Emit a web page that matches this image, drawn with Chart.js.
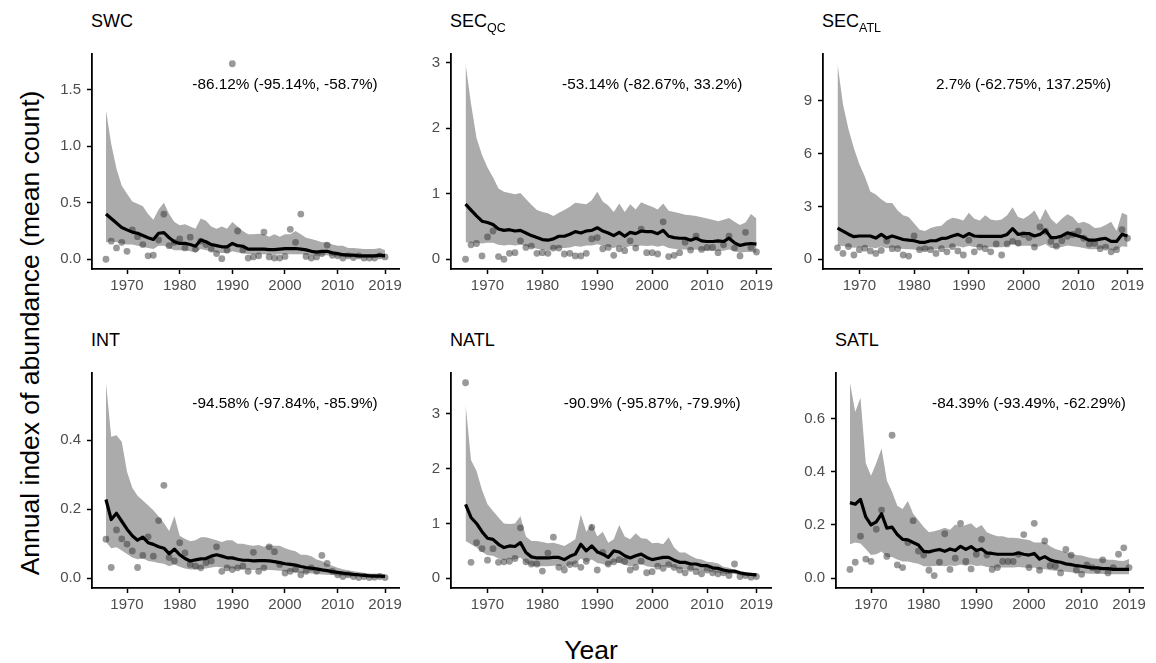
<!DOCTYPE html>
<html>
<head>
<meta charset="utf-8">
<title>Annual index of abundance</title>
<script src="https://cdn.jsdelivr.net/npm/chart.js@4.4.1/dist/chart.umd.min.js"></script>
<style>
  body { margin: 0; background: #fff; font-family: "Liberation Sans", Arial, sans-serif; }
  #figure { position: relative; width: 1156px; height: 663px; overflow: hidden; background: #fff; }
  #figure canvas { position: absolute; }
  .panel-title { position: absolute; font-size: 18px; line-height: 18px; color: #000; white-space: nowrap; }
  .panel-title span { font-size: 12.5px; position: relative; top: 5px; }
  .axis-title { position: absolute; font-size: 26.5px; line-height: 27px; color: #000; white-space: nowrap; }
  #ytitle { left: 30px; top: 333px; transform: translate(-50%, -50%) rotate(-90deg); }
  #xtitle { left: 591px; top: 650px; transform: translate(-50%, -50%); }
</style>
</head>
<body>
<div id="figure">
  <div class="axis-title" id="ytitle">Annual index of abundance (mean count)</div>
  <div class="axis-title" id="xtitle">Year</div>
</div>
<script>
const years = [1966, 1967, 1968, 1969, 1970, 1971, 1972, 1973, 1974, 1975,
  1976, 1977, 1978, 1979, 1980, 1981, 1982, 1983, 1984, 1985,
  1986, 1987, 1988, 1989, 1990, 1991, 1992, 1993, 1994, 1995,
  1996, 1997, 1998, 1999, 2000, 2001, 2002, 2003, 2004, 2005,
  2006, 2007, 2008, 2009, 2010, 2011, 2012, 2013, 2014, 2015,
  2016, 2017, 2018, 2019];
const yearTicks = [1970, 1980, 1990, 2000, 2010, 2019];

const regionNames = ['SWC', 'SEC', 'SEC', 'INT', 'NATL', 'SATL'];
const regionSubs = ['', 'QC', 'ATL', '', '', ''];
const changeLabels = [
  '-86.12% (-95.14%, -58.7%)',
  '-53.14% (-82.67%, 33.2%)',
  '2.7% (-62.75%, 137.25%)',
  '-94.58% (-97.84%, -85.9%)',
  '-90.9% (-95.87%, -79.9%)',
  '-84.39% (-93.49%, -62.29%)'
];

// SWC
const swcMean = [0.40, 0.36, 0.32, 0.28, 0.26, 0.24, 0.23, 0.21, 0.19, 0.175,
  0.23, 0.235, 0.19, 0.155, 0.14, 0.14, 0.13, 0.115, 0.17, 0.155,
  0.13, 0.12, 0.11, 0.11, 0.14, 0.12, 0.115, 0.09, 0.09, 0.09,
  0.09, 0.085, 0.085, 0.09, 0.093, 0.093, 0.095, 0.09, 0.083, 0.07,
  0.063, 0.07, 0.07, 0.056, 0.05, 0.04, 0.036, 0.036, 0.03, 0.03,
  0.03, 0.03, 0.036, 0.03];
const swcUpper = [1.32, 1.02, 0.80, 0.65, 0.58, 0.51, 0.49, 0.47, 0.40, 0.35,
  0.44, 0.50, 0.40, 0.33, 0.30, 0.31, 0.29, 0.27, 0.36, 0.34,
  0.29, 0.27, 0.29, 0.27, 0.33, 0.29, 0.25, 0.22, 0.22, 0.225,
  0.22, 0.20, 0.22, 0.20, 0.22, 0.22, 0.25, 0.22, 0.19, 0.18,
  0.165, 0.15, 0.15, 0.13, 0.12, 0.12, 0.10, 0.10, 0.095, 0.09,
  0.09, 0.09, 0.10, 0.08];
const swcLower = [0.15, 0.16, 0.15, 0.14, 0.13, 0.13, 0.12, 0.11, 0.10, 0.09,
  0.12, 0.12, 0.10, 0.08, 0.08, 0.08, 0.07, 0.06, 0.09, 0.08,
  0.07, 0.06, 0.055, 0.055, 0.07, 0.06, 0.055, 0.045, 0.045, 0.045,
  0.045, 0.04, 0.04, 0.045, 0.045, 0.045, 0.045, 0.045, 0.04, 0.035,
  0.03, 0.035, 0.035, 0.028, 0.024, 0.02, 0.018, 0.018, 0.015, 0.015,
  0.015, 0.015, 0.017, 0.014];
const swcObs = [0.00, 0.16, 0.10, 0.15, 0.07, 0.26, 0.20, 0.13, 0.03, 0.035,
  0.17, 0.40, 0.12, 0.15, 0.18, 0.10, 0.195, 0.09, 0.16, 0.13,
  0.09, 0.05, 0.005, 0.08, 1.73, 0.25, 0.08, 0.01, 0.02, 0.03,
  0.24, 0.02, 0.01, 0.01, 0.025, 0.265, 0.15, 0.40, 0.025, 0.01,
  0.02, 0.05, 0.125, 0.035, 0.03, 0.01, 0.03, 0.015, 0.03, 0.01,
  0.01, 0.01, 0.03, 0.02];

// SEC QC
const qcMean = [0.84, 0.75, 0.66, 0.58, 0.56, 0.53, 0.46, 0.44, 0.45, 0.43,
  0.44, 0.40, 0.36, 0.33, 0.30, 0.29, 0.31, 0.35, 0.35, 0.38,
  0.42, 0.40, 0.43, 0.44, 0.48, 0.43, 0.40, 0.36, 0.41, 0.35,
  0.41, 0.39, 0.43, 0.42, 0.42, 0.39, 0.44, 0.35, 0.33, 0.32,
  0.32, 0.29, 0.32, 0.28, 0.27, 0.27, 0.28, 0.27, 0.32, 0.25,
  0.21, 0.23, 0.24, 0.23];
const qcUpper = [2.98, 2.37, 1.85, 1.59, 1.40, 1.25, 1.08, 1.03, 1.01, 0.99,
  1.01, 0.92, 0.83, 0.75, 0.72, 0.70, 0.66, 0.71, 0.75, 0.80,
  0.86, 0.85, 0.84, 0.90, 1.03, 0.88, 0.82, 0.72, 0.85, 0.72,
  0.84, 0.76, 0.87, 0.83, 0.80, 0.76, 0.85, 0.74, 0.72, 0.70,
  0.68, 0.67, 0.66, 0.64, 0.62, 0.60, 0.58, 0.60, 0.63, 0.57,
  0.52, 0.56, 0.69, 0.62];
const qcLower = [0.26, 0.25, 0.25, 0.24, 0.25, 0.25, 0.22, 0.21, 0.22, 0.21,
  0.22, 0.20, 0.18, 0.16, 0.14, 0.14, 0.15, 0.17, 0.17, 0.18,
  0.20, 0.19, 0.21, 0.21, 0.23, 0.21, 0.19, 0.17, 0.20, 0.17,
  0.20, 0.19, 0.21, 0.20, 0.21, 0.19, 0.21, 0.17, 0.16, 0.15,
  0.15, 0.14, 0.15, 0.13, 0.13, 0.13, 0.13, 0.13, 0.15, 0.12,
  0.10, 0.11, 0.11, 0.10];
const qcObs = [0.00, 0.22, 0.24, 0.05, 0.34, 0.43, 0.04, 0.00, 0.09, 0.10,
  0.28, 0.18, 0.20, 0.09, 0.10, 0.09, 0.17, 0.17, 0.08, 0.09,
  0.05, 0.05, 0.09, 0.31, 0.33, 0.16, 0.18, 0.06, 0.16, 0.13,
  0.28, 0.17, 0.46, 0.10, 0.10, 0.08, 0.57, 0.04, 0.06, 0.10,
  0.26, 0.14, 0.35, 0.15, 0.18, 0.18, 0.10, 0.22, 0.35, 0.17,
  0.05, 0.41, 0.18, 0.11];

// SEC ATL
const atlMean = [1.77, 1.60, 1.42, 1.28, 1.32, 1.32, 1.32, 1.20, 1.41, 1.20,
  1.32, 1.22, 1.12, 1.08, 1.05, 0.96, 0.96, 1.05, 1.05, 1.18,
  1.20, 1.32, 1.41, 1.27, 1.46, 1.32, 1.30, 1.30, 1.30, 1.30,
  1.30, 1.41, 1.74, 1.41, 1.46, 1.46, 1.32, 1.41, 1.65, 1.23,
  1.23, 1.32, 1.50, 1.41, 1.32, 1.23, 1.08, 1.08, 1.14, 1.19,
  1.01, 1.01, 1.41, 1.32];
const atlUpper = [11.1, 8.8, 7.4, 6.3, 5.4, 4.7, 3.85, 3.67, 3.4, 3.2,
  3.2, 2.77, 2.5, 2.4, 2.04, 1.68, 1.6, 1.77, 1.86, 1.9,
  2.2, 2.35, 2.3, 2.2, 2.64, 2.3, 2.2, 2.5, 2.25, 2.2,
  2.25, 2.5, 2.95, 2.4, 2.3, 2.5, 2.77, 2.2, 2.85, 2.3,
  2.0, 2.3, 2.55, 2.4, 2.04, 2.13, 2.0, 1.77, 1.8, 1.95,
  2.13, 1.6, 2.64, 2.5];
const atlLower = [0.78, 0.75, 0.70, 0.65, 0.68, 0.68, 0.68, 0.62, 0.72, 0.62,
  0.68, 0.63, 0.58, 0.56, 0.55, 0.50, 0.50, 0.55, 0.55, 0.62,
  0.63, 0.69, 0.73, 0.66, 0.76, 0.69, 0.68, 0.68, 0.68, 0.68,
  0.68, 0.73, 0.90, 0.73, 0.76, 0.76, 0.69, 0.73, 0.86, 0.64,
  0.64, 0.69, 0.78, 0.73, 0.69, 0.64, 0.56, 0.56, 0.59, 0.62,
  0.52, 0.52, 0.73, 0.69];
const atlObs = [0.65, 0.33, 0.72, 0.24, 0.54, 0.63, 0.47, 0.33, 0.50, 1.05,
  0.60, 0.60, 0.24, 0.18, 1.32, 0.54, 0.60, 0.54, 0.33, 0.60,
  0.42, 0.72, 0.47, 0.24, 1.08, 0.42, 0.69, 0.60, 0.42, 0.87,
  0.24, 0.87, 1.01, 0.92, 1.41, 1.23, 0.69, 1.83, 1.59, 1.01,
  0.74, 1.05, 1.30, 1.41, 1.59, 1.19, 0.87, 0.90, 0.60, 0.69,
  0.42, 0.54, 1.68, 1.19];

// INT
const intMean = [0.228, 0.17, 0.188, 0.165, 0.142, 0.123, 0.11, 0.119, 0.103, 0.098,
  0.091, 0.087, 0.071, 0.084, 0.068, 0.057, 0.05, 0.053, 0.056, 0.057,
  0.064, 0.068, 0.064, 0.059, 0.059, 0.055, 0.052, 0.052, 0.05, 0.051,
  0.051, 0.05, 0.048, 0.045, 0.042, 0.04, 0.038, 0.034, 0.031, 0.029,
  0.027, 0.024, 0.022, 0.019, 0.017, 0.015, 0.013, 0.011, 0.01, 0.008,
  0.007, 0.006, 0.006, 0.005];
const intUpper = [0.566, 0.41, 0.414, 0.395, 0.308, 0.262, 0.239, 0.225, 0.211, 0.197,
  0.179, 0.16, 0.137, 0.18, 0.123, 0.114, 0.107, 0.11, 0.119, 0.119,
  0.114, 0.11, 0.105, 0.11, 0.11, 0.10, 0.10, 0.096, 0.094, 0.096,
  0.091, 0.096, 0.094, 0.094, 0.087, 0.082, 0.078, 0.068, 0.068, 0.064,
  0.054, 0.05, 0.041, 0.036, 0.03, 0.026, 0.023, 0.02, 0.018, 0.016,
  0.014, 0.013, 0.013, 0.012];
const intLower = [0.105, 0.087, 0.09, 0.08, 0.07, 0.06, 0.055, 0.058, 0.05, 0.048,
  0.044, 0.042, 0.035, 0.04, 0.033, 0.028, 0.025, 0.026, 0.027, 0.028,
  0.031, 0.033, 0.031, 0.029, 0.029, 0.027, 0.025, 0.025, 0.024, 0.025,
  0.025, 0.024, 0.023, 0.022, 0.02, 0.019, 0.018, 0.016, 0.015, 0.014,
  0.013, 0.011, 0.01, 0.009, 0.008, 0.007, 0.006, 0.005, 0.004, 0.004,
  0.003, 0.003, 0.003, 0.002];
const intObs = [0.113, 0.031, 0.14, 0.114, 0.099, 0.079, 0.031, 0.066, 0.12, 0.064,
  0.167, 0.269, 0.06, 0.05, 0.103, 0.073, 0.04, 0.035, 0.03, 0.045,
  0.05, 0.091, 0.02, 0.03, 0.025, 0.03, 0.035, 0.02, 0.075, 0.02,
  0.03, 0.091, 0.077, 0.04, 0.015, 0.02, 0.025, 0.01, 0.02, 0.03,
  0.02, 0.066, 0.043, 0.02, 0.01, 0.005, 0.01, 0.005, 0.002, 0.005,
  0.002, 0.003, 0.005, 0.002];

// NATL
const natlMean = [1.35, 1.11, 1.0, 0.85, 0.73, 0.71, 0.62, 0.56, 0.59, 0.58,
  0.65, 0.47, 0.39, 0.37, 0.37, 0.37, 0.38, 0.38, 0.34, 0.40,
  0.44, 0.62, 0.50, 0.59, 0.48, 0.44, 0.38, 0.50, 0.48, 0.41,
  0.37, 0.41, 0.44, 0.38, 0.34, 0.36, 0.38, 0.38, 0.33, 0.29,
  0.29, 0.26, 0.26, 0.23, 0.23, 0.19, 0.18, 0.15, 0.13, 0.13,
  0.10, 0.08, 0.07, 0.06];
const natlUpper = [3.18, 2.16, 1.96, 1.61, 1.35, 1.23, 1.11, 1.0, 0.99, 1.0,
  1.13, 0.76, 0.68, 0.68, 0.66, 0.64, 0.65, 0.62, 0.59, 0.65,
  0.71, 1.16, 0.85, 1.0, 0.76, 0.85, 0.65, 0.71, 0.97, 0.76,
  0.71, 0.82, 0.73, 0.72, 0.64, 0.65, 0.62, 0.75, 0.56, 0.47,
  0.47, 0.41, 0.36, 0.34, 0.30, 0.29, 0.27, 0.21, 0.19, 0.15,
  0.12, 0.10, 0.09, 0.09];
const natlLower = [0.68, 0.62, 0.56, 0.48, 0.42, 0.41, 0.36, 0.33, 0.35, 0.34,
  0.38, 0.28, 0.23, 0.22, 0.22, 0.22, 0.23, 0.23, 0.20, 0.24,
  0.26, 0.36, 0.29, 0.34, 0.28, 0.26, 0.22, 0.29, 0.28, 0.24,
  0.22, 0.24, 0.26, 0.22, 0.20, 0.21, 0.22, 0.22, 0.19, 0.17,
  0.17, 0.15, 0.15, 0.13, 0.13, 0.11, 0.10, 0.085, 0.075, 0.075,
  0.055, 0.045, 0.04, 0.03];
const natlObs = [3.57, 0.29, 0.65, 0.54, 0.33, 0.54, 0.29, 0.30, 0.31, 0.36,
  0.92, 0.30, 0.26, 0.26, 0.13, 0.46, 0.75, 0.20, 0.15, 0.25,
  0.26, 0.20, 0.31, 0.93, 0.15, 0.47, 0.26, 0.30, 0.34, 0.31,
  0.15, 0.20, 0.31, 0.10, 0.12, 0.22, 0.18, 0.25, 0.20, 0.15,
  0.10, 0.18, 0.12, 0.08, 0.15, 0.10, 0.08, 0.10, 0.05, 0.26,
  0.03, 0.05, 0.02, 0.03];

// SATL
const satlMean = [0.284, 0.278, 0.296, 0.23, 0.20, 0.212, 0.242, 0.188, 0.192, 0.164,
  0.146, 0.144, 0.134, 0.125, 0.101, 0.099, 0.104, 0.108, 0.101, 0.11,
  0.104, 0.12, 0.108, 0.119, 0.104, 0.11, 0.095, 0.093, 0.09, 0.09,
  0.09, 0.09, 0.095, 0.09, 0.087, 0.093, 0.072, 0.081, 0.069, 0.063,
  0.06, 0.054, 0.051, 0.047, 0.045, 0.042, 0.039, 0.039, 0.036, 0.036,
  0.033, 0.033, 0.033, 0.033];
const satlUpper = [0.734, 0.624, 0.678, 0.433, 0.385, 0.433, 0.487, 0.367, 0.325, 0.272,
  0.26, 0.29, 0.242, 0.218, 0.192, 0.173, 0.176, 0.182, 0.19, 0.182,
  0.202, 0.194, 0.2, 0.206, 0.188, 0.2, 0.173, 0.164, 0.158, 0.158,
  0.152, 0.152, 0.15, 0.146, 0.144, 0.134, 0.134, 0.136, 0.12, 0.11,
  0.104, 0.098, 0.093, 0.087, 0.085, 0.08, 0.075, 0.073, 0.073, 0.069,
  0.069, 0.066, 0.065, 0.072];
const satlLower = [0.128, 0.134, 0.13, 0.11, 0.087, 0.09, 0.1, 0.08, 0.08, 0.07,
  0.063, 0.063, 0.058, 0.054, 0.045, 0.044, 0.046, 0.048, 0.045, 0.048,
  0.046, 0.052, 0.047, 0.052, 0.046, 0.048, 0.042, 0.041, 0.04, 0.04,
  0.04, 0.04, 0.042, 0.04, 0.038, 0.04, 0.032, 0.035, 0.03, 0.028,
  0.026, 0.024, 0.022, 0.02, 0.02, 0.018, 0.017, 0.017, 0.016, 0.016,
  0.015, 0.015, 0.015, 0.015];
const satlObs = [0.033, 0.06, 0.158, 0.072, 0.063, 0.184, 0.256, 0.082, 0.537, 0.05,
  0.04, 0.134, 0.216, 0.102, 0.087, 0.03, 0.01, 0.06, 0.167, 0.033,
  0.075, 0.206, 0.063, 0.035, 0.09, 0.146, 0.087, 0.033, 0.04, 0.063,
  0.063, 0.063, 0.09, 0.164, 0.04, 0.206, 0.03, 0.14, 0.047, 0.045,
  0.02, 0.108, 0.087, 0.03, 0.015, 0.05, 0.04, 0.03, 0.069, 0.02,
  0.04, 0.09, 0.114, 0.04];

const yTickValues = [
  [0, 0.5, 1, 1.5], [0, 1, 2, 3], [0, 3, 6, 9],
  [0, 0.2, 0.4], [0, 1, 2, 3], [0, 0.2, 0.4, 0.6]
];
const yTickLabels = [
  ['0.0', '0.5', '1.0', '1.5'], ['0', '1', '2', '3'], ['0', '3', '6', '9'],
  ['0.0', '0.2', '0.4'], ['0', '1', '2', '3'], ['0.0', '0.2', '0.4', '0.6']
];

const series = [
  [swcMean, swcUpper, swcLower, swcObs],
  [qcMean, qcUpper, qcLower, qcObs],
  [atlMean, atlUpper, atlLower, atlObs],
  [intMean, intUpper, intLower, intObs],
  [natlMean, natlUpper, natlLower, natlObs],
  [satlMean, satlUpper, satlLower, satlObs]
];

// plot area of each panel on the page (px)
const panelBoxes = [
  { left: 92, right: 399, top: 45, bottom: 269 },
  { left: 451, right: 771, top: 45, bottom: 269 },
  { left: 823, right: 1142, top: 45, bottom: 269 },
  { left: 92, right: 399, top: 364, bottom: 588 },
  { left: 451, right: 771, top: 364, bottom: 588 },
  { left: 836, right: 1143, top: 364, bottom: 588 }
];

const AXIS_W = 60, AXIS_H = 35, PAD_TOP = 6, PAD_RIGHT = 10;
const tickFont = { family: '"Liberation Sans", Arial, sans-serif', size: 15 };
const tickColor = '#4d4d4d';

const changeText = {
  id: 'changeText',
  afterDatasetsDraw(chart, args, opts) {
    const { ctx, scales } = chart;
    ctx.save();
    ctx.font = '15.3px "Liberation Sans", Arial, sans-serif';
    ctx.fillStyle = '#000';
    ctx.textAlign = 'center';
    ctx.textBaseline = 'middle';
    ctx.fillText(opts.text, scales.x.getPixelForValue(opts.x), scales.y.getPixelForValue(opts.y));
    ctx.restore();
  }
};

function toPoints(values) {
  return values.map((v, i) => ({ x: years[i], y: v }));
}

function buildPanel(i) {
  const box = panelBoxes[i];
  const [mean, upper, lower, obs] = series[i];
  const fig = document.getElementById('figure');

  const title = document.createElement('div');
  title.className = 'panel-title';
  title.style.left = (box.left - 1) + 'px';
  title.style.top = (box.top - 33) + 'px';
  title.innerHTML = regionNames[i] + (regionSubs[i] ? '<span>' + regionSubs[i] + '</span>' : '');
  fig.appendChild(title);

  const canvas = document.createElement('canvas');
  canvas.width = box.right - box.left + AXIS_W + PAD_RIGHT;
  canvas.height = box.bottom - box.top + PAD_TOP + AXIS_H;
  canvas.style.left = (box.left - AXIS_W) + 'px';
  canvas.style.top = (box.top - PAD_TOP) + 'px';
  fig.appendChild(canvas);

  const hi = Math.max(...upper, ...obs);
  const lo = Math.min(0, ...lower, ...obs);
  const padY = (hi - lo) * 0.05;
  const padX = (years[years.length - 1] - years[0]) * 0.05;

  new Chart(canvas.getContext('2d'), {
    type: 'line',
    data: {
      datasets: [
        { data: toPoints(mean), borderColor: '#000', borderWidth: 3.2, pointRadius: 0,
          borderJoinStyle: 'round', fill: false, order: 0 },
        { data: toPoints(obs), showLine: false, pointRadius: 3.4, pointBorderWidth: 0,
          pointBackgroundColor: 'rgba(51,51,51,0.5)', order: 1 },
        { data: toPoints(upper), borderColor: 'rgba(0,0,0,0)', pointRadius: 0,
          backgroundColor: '#ababab', fill: '+1', order: 2 },
        { data: toPoints(lower), borderColor: 'rgba(0,0,0,0)', pointRadius: 0,
          fill: false, order: 3 }
      ]
    },
    options: {
      responsive: false,
      animation: false,
      events: [],
      layout: { padding: { top: PAD_TOP, right: PAD_RIGHT, left: 0, bottom: 0 } },
      elements: { line: { tension: 0 } },
      plugins: {
        legend: { display: false },
        tooltip: { enabled: false },
        changeText: { text: changeLabels[i], x: 2000, y: hi * 0.89 }
      },
      scales: {
        x: {
          type: 'linear',
          min: years[0] - padX,
          max: years[years.length - 1] + padX,
          afterBuildTicks: s => { s.ticks = yearTicks.map(v => ({ value: v })); },
          afterFit: s => { s.height = AXIS_H; },
          ticks: { autoSkip: false, maxRotation: 0, padding: 3, color: tickColor, font: tickFont,
            callback: v => String(v) },
          grid: { drawOnChartArea: false, tickLength: 5, tickColor: '#000', tickWidth: 1.5 },
          border: { color: '#000', width: 1.8 }
        },
        y: {
          type: 'linear',
          min: lo - padY,
          max: hi + padY,
          afterBuildTicks: s => { s.ticks = yTickValues[i].map(v => ({ value: v })); },
          afterFit: s => { s.width = AXIS_W; },
          ticks: { autoSkip: false, padding: 6, color: tickColor, font: tickFont,
            callback: (v, idx) => yTickLabels[i][idx] },
          grid: { drawOnChartArea: false, tickLength: 5, tickColor: '#000', tickWidth: 1.5 },
          border: { color: '#000', width: 1.8 }
        }
      }
    },
    plugins: [changeText]
  });
}

for (let i = 0; i < panelBoxes.length; i++) buildPanel(i);
</script>
</body>
</html>
